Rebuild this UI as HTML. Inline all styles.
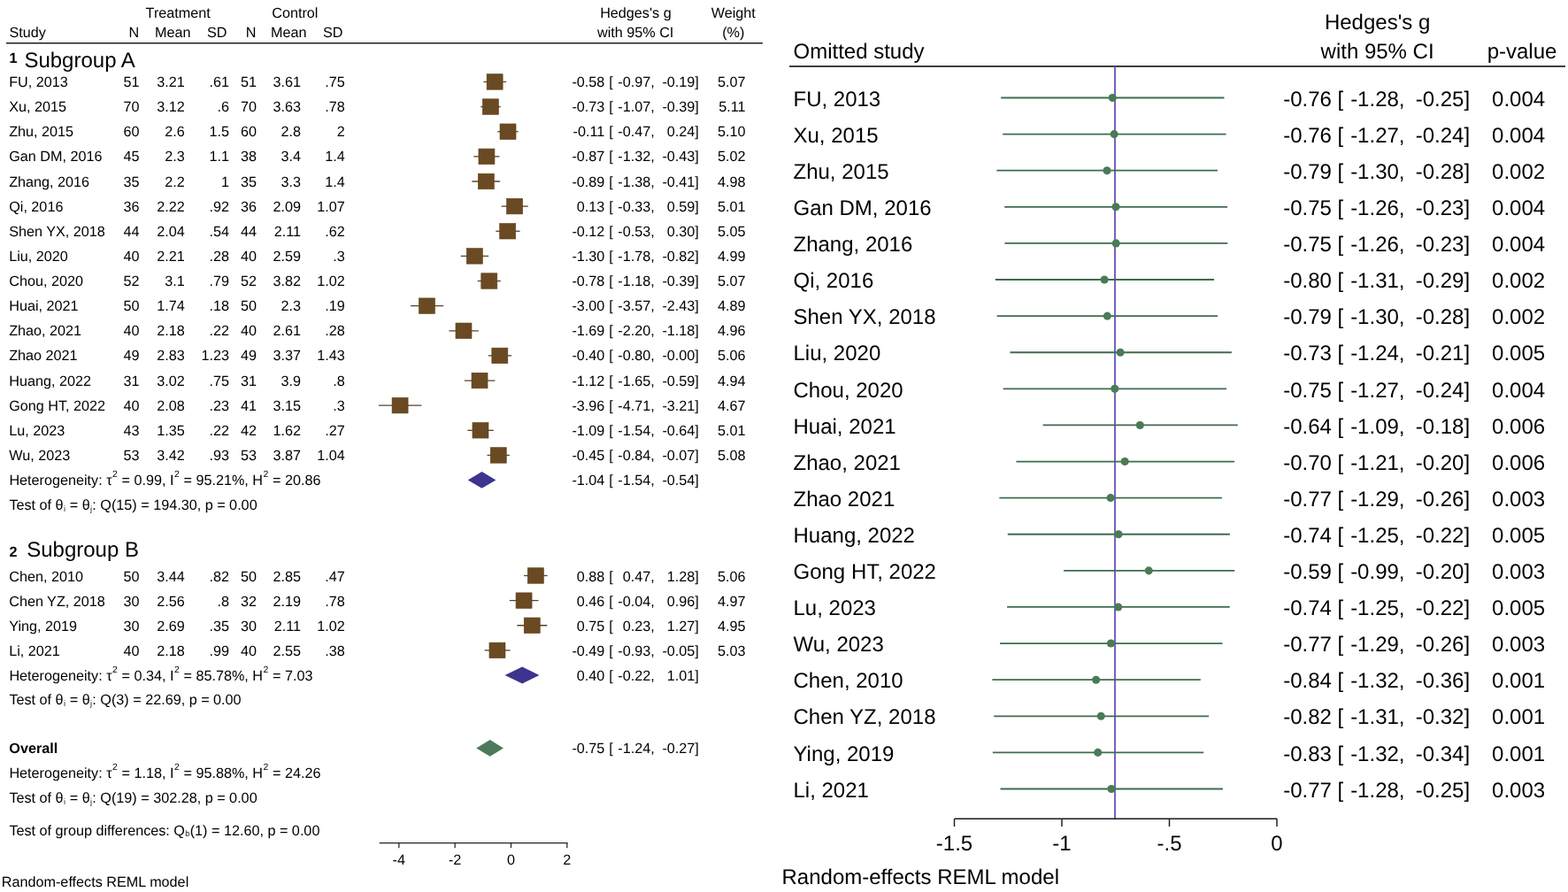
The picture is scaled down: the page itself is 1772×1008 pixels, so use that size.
<!DOCTYPE html>
<html lang="en">
<head>
<meta charset="utf-8">
<title>Forest plot</title>
<style>
html,body{margin:0;padding:0;background:#fff;}
body{width:1772px;height:1008px;overflow:hidden;}
svg{display:block;}
text{font-family:"Liberation Sans",sans-serif;fill:#000;white-space:pre;text-rendering:geometricPrecision;}
.l text{font-size:16.2px;}
.r text{font-size:24px;}
text.b{font-weight:bold;}
</style>
</head>
<body>
<svg width="1772" height="1008" viewBox="0 0 1772 1008">
<rect width="1772" height="1008" fill="#ffffff"/>
<g class="l">
<text x="201.20" y="19.80" text-anchor="middle">Treatment</text>
<text x="333.30" y="19.80" text-anchor="middle">Control</text>
<text x="10.40" y="42.30">Study</text>
<text x="157.20" y="42.30" text-anchor="end">N</text>
<text x="195.20" y="42.30" text-anchor="middle">Mean</text>
<text x="245.20" y="42.30" text-anchor="middle">SD</text>
<text x="289.40" y="42.30" text-anchor="end">N</text>
<text x="326.30" y="42.30" text-anchor="middle">Mean</text>
<text x="376.20" y="42.30" text-anchor="middle">SD</text>
<text x="718.40" y="19.80" text-anchor="middle">Hedges's g</text>
<text x="718.20" y="42.30" text-anchor="middle">with 95% CI</text>
<text x="828.80" y="19.80" text-anchor="middle">Weight</text>
<text x="828.80" y="42.30" text-anchor="middle">(%)</text>
<rect x="7" y="48.0" width="854.8" height="1.5" fill="#1c1c1c"/>
<text x="10.40" y="70.80" class="b">1</text>
<text x="27.40" y="75.60" style="font-size:24px">Subgroup A</text>
<text x="10.40" y="628.60" class="b">2</text>
<text x="30.20" y="628.60" style="font-size:24px">Subgroup B</text>
<text x="10.20" y="98.00">FU, 2013</text>
<text x="157.60" y="98.00" text-anchor="end">51</text>
<text x="208.80" y="98.00" text-anchor="end">3.21</text>
<text x="259.00" y="98.00" text-anchor="end">.61</text>
<text x="290.00" y="98.00" text-anchor="end">51</text>
<text x="340.10" y="98.00" text-anchor="end">3.61</text>
<text x="389.80" y="98.00" text-anchor="end">.75</text>
<text x="683.30" y="98.00" text-anchor="end">-0.58</text>
<text x="688.30" y="98.00">[</text>
<text x="739.70" y="98.00" text-anchor="end">-0.97,</text>
<text x="789.80" y="98.00" text-anchor="end">-0.19]</text>
<text x="842.60" y="98.00" text-anchor="end">5.07</text>
<line x1="546.38" y1="92.46" x2="572.08" y2="92.46" stroke="#5a4424" stroke-width="1.3" stroke-linecap="butt"/>
<rect x="550.13" y="83.71" width="18.0" height="17.5" fill="#6a4a23" stroke="#5d3d14" stroke-width="0.6"/>
<text x="10.20" y="126.13">Xu, 2015</text>
<text x="157.60" y="126.13" text-anchor="end">70</text>
<text x="208.80" y="126.13" text-anchor="end">3.12</text>
<text x="259.00" y="126.13" text-anchor="end">.6</text>
<text x="290.00" y="126.13" text-anchor="end">70</text>
<text x="340.10" y="126.13" text-anchor="end">3.63</text>
<text x="389.80" y="126.13" text-anchor="end">.78</text>
<text x="683.30" y="126.13" text-anchor="end">-0.73</text>
<text x="688.30" y="126.13">[</text>
<text x="739.70" y="126.13" text-anchor="end">-1.07,</text>
<text x="789.80" y="126.13" text-anchor="end">-0.39]</text>
<text x="842.60" y="126.13" text-anchor="end">5.11</text>
<line x1="543.21" y1="120.59" x2="565.75" y2="120.59" stroke="#5a4424" stroke-width="1.3" stroke-linecap="butt"/>
<rect x="545.38" y="111.84" width="18.0" height="17.5" fill="#6a4a23" stroke="#5d3d14" stroke-width="0.6"/>
<text x="10.20" y="154.27">Zhu, 2015</text>
<text x="157.60" y="154.27" text-anchor="end">60</text>
<text x="208.80" y="154.27" text-anchor="end">2.6</text>
<text x="259.00" y="154.27" text-anchor="end">1.5</text>
<text x="290.00" y="154.27" text-anchor="end">60</text>
<text x="340.10" y="154.27" text-anchor="end">2.8</text>
<text x="389.80" y="154.27" text-anchor="end">2</text>
<text x="683.30" y="154.27" text-anchor="end">-0.11</text>
<text x="688.30" y="154.27">[</text>
<text x="739.70" y="154.27" text-anchor="end">-0.47,</text>
<text x="789.80" y="154.27" text-anchor="end">0.24]</text>
<text x="842.60" y="154.27" text-anchor="end">5.10</text>
<line x1="562.22" y1="148.73" x2="585.70" y2="148.73" stroke="#5a4424" stroke-width="1.3" stroke-linecap="butt"/>
<rect x="565.02" y="139.98" width="18.0" height="17.5" fill="#6a4a23" stroke="#5d3d14" stroke-width="0.6"/>
<text x="10.20" y="182.40">Gan DM, 2016</text>
<text x="157.60" y="182.40" text-anchor="end">45</text>
<text x="208.80" y="182.40" text-anchor="end">2.3</text>
<text x="259.00" y="182.40" text-anchor="end">1.1</text>
<text x="290.00" y="182.40" text-anchor="end">38</text>
<text x="340.10" y="182.40" text-anchor="end">3.4</text>
<text x="389.80" y="182.40" text-anchor="end">1.4</text>
<text x="683.30" y="182.40" text-anchor="end">-0.87</text>
<text x="688.30" y="182.40">[</text>
<text x="739.70" y="182.40" text-anchor="end">-1.32,</text>
<text x="789.80" y="182.40" text-anchor="end">-0.43]</text>
<text x="842.60" y="182.40" text-anchor="end">5.02</text>
<line x1="535.30" y1="176.86" x2="564.48" y2="176.86" stroke="#5a4424" stroke-width="1.3" stroke-linecap="butt"/>
<rect x="540.95" y="168.11" width="18.0" height="17.5" fill="#6a4a23" stroke="#5d3d14" stroke-width="0.6"/>
<text x="10.20" y="210.53">Zhang, 2016</text>
<text x="157.60" y="210.53" text-anchor="end">35</text>
<text x="208.80" y="210.53" text-anchor="end">2.2</text>
<text x="259.00" y="210.53" text-anchor="end">1</text>
<text x="290.00" y="210.53" text-anchor="end">35</text>
<text x="340.10" y="210.53" text-anchor="end">3.3</text>
<text x="389.80" y="210.53" text-anchor="end">1.4</text>
<text x="683.30" y="210.53" text-anchor="end">-0.89</text>
<text x="688.30" y="210.53">[</text>
<text x="739.70" y="210.53" text-anchor="end">-1.38,</text>
<text x="789.80" y="210.53" text-anchor="end">-0.41]</text>
<text x="842.60" y="210.53" text-anchor="end">4.98</text>
<line x1="533.40" y1="204.99" x2="565.12" y2="204.99" stroke="#5a4424" stroke-width="1.3" stroke-linecap="butt"/>
<rect x="540.31" y="196.24" width="18.0" height="17.5" fill="#6a4a23" stroke="#5d3d14" stroke-width="0.6"/>
<text x="10.20" y="238.66">Qi, 2016</text>
<text x="157.60" y="238.66" text-anchor="end">36</text>
<text x="208.80" y="238.66" text-anchor="end">2.22</text>
<text x="259.00" y="238.66" text-anchor="end">.92</text>
<text x="290.00" y="238.66" text-anchor="end">36</text>
<text x="340.10" y="238.66" text-anchor="end">2.09</text>
<text x="389.80" y="238.66" text-anchor="end">1.07</text>
<text x="683.30" y="238.66" text-anchor="end">0.13</text>
<text x="688.30" y="238.66">[</text>
<text x="739.70" y="238.66" text-anchor="end">-0.33,</text>
<text x="789.80" y="238.66" text-anchor="end">0.59]</text>
<text x="842.60" y="238.66" text-anchor="end">5.01</text>
<line x1="566.65" y1="233.12" x2="596.79" y2="233.12" stroke="#5a4424" stroke-width="1.3" stroke-linecap="butt"/>
<rect x="572.62" y="224.38" width="18.0" height="17.5" fill="#6a4a23" stroke="#5d3d14" stroke-width="0.6"/>
<text x="10.20" y="266.80">Shen YX, 2018</text>
<text x="157.60" y="266.80" text-anchor="end">44</text>
<text x="208.80" y="266.80" text-anchor="end">2.04</text>
<text x="259.00" y="266.80" text-anchor="end">.54</text>
<text x="290.00" y="266.80" text-anchor="end">44</text>
<text x="340.10" y="266.80" text-anchor="end">2.11</text>
<text x="389.80" y="266.80" text-anchor="end">.62</text>
<text x="683.30" y="266.80" text-anchor="end">-0.12</text>
<text x="688.30" y="266.80">[</text>
<text x="739.70" y="266.80" text-anchor="end">-0.53,</text>
<text x="789.80" y="266.80" text-anchor="end">0.30]</text>
<text x="842.60" y="266.80" text-anchor="end">5.05</text>
<line x1="560.31" y1="261.26" x2="587.60" y2="261.26" stroke="#5a4424" stroke-width="1.3" stroke-linecap="butt"/>
<rect x="564.70" y="252.51" width="18.0" height="17.5" fill="#6a4a23" stroke="#5d3d14" stroke-width="0.6"/>
<text x="10.20" y="294.93">Liu, 2020</text>
<text x="157.60" y="294.93" text-anchor="end">40</text>
<text x="208.80" y="294.93" text-anchor="end">2.21</text>
<text x="259.00" y="294.93" text-anchor="end">.28</text>
<text x="290.00" y="294.93" text-anchor="end">40</text>
<text x="340.10" y="294.93" text-anchor="end">2.59</text>
<text x="389.80" y="294.93" text-anchor="end">.3</text>
<text x="683.30" y="294.93" text-anchor="end">-1.30</text>
<text x="688.30" y="294.93">[</text>
<text x="739.70" y="294.93" text-anchor="end">-1.78,</text>
<text x="789.80" y="294.93" text-anchor="end">-0.82]</text>
<text x="842.60" y="294.93" text-anchor="end">4.99</text>
<line x1="520.73" y1="289.39" x2="552.13" y2="289.39" stroke="#5a4424" stroke-width="1.3" stroke-linecap="butt"/>
<rect x="527.33" y="280.64" width="18.0" height="17.5" fill="#6a4a23" stroke="#5d3d14" stroke-width="0.6"/>
<text x="10.20" y="323.06">Chou, 2020</text>
<text x="157.60" y="323.06" text-anchor="end">52</text>
<text x="208.80" y="323.06" text-anchor="end">3.1</text>
<text x="259.00" y="323.06" text-anchor="end">.79</text>
<text x="290.00" y="323.06" text-anchor="end">52</text>
<text x="340.10" y="323.06" text-anchor="end">3.82</text>
<text x="389.80" y="323.06" text-anchor="end">1.02</text>
<text x="683.30" y="323.06" text-anchor="end">-0.78</text>
<text x="688.30" y="323.06">[</text>
<text x="739.70" y="323.06" text-anchor="end">-1.18,</text>
<text x="789.80" y="323.06" text-anchor="end">-0.39]</text>
<text x="842.60" y="323.06" text-anchor="end">5.07</text>
<line x1="539.73" y1="317.52" x2="565.75" y2="317.52" stroke="#5a4424" stroke-width="1.3" stroke-linecap="butt"/>
<rect x="543.80" y="308.77" width="18.0" height="17.5" fill="#6a4a23" stroke="#5d3d14" stroke-width="0.6"/>
<text x="10.20" y="351.20">Huai, 2021</text>
<text x="157.60" y="351.20" text-anchor="end">50</text>
<text x="208.80" y="351.20" text-anchor="end">1.74</text>
<text x="259.00" y="351.20" text-anchor="end">.18</text>
<text x="290.00" y="351.20" text-anchor="end">50</text>
<text x="340.10" y="351.20" text-anchor="end">2.3</text>
<text x="389.80" y="351.20" text-anchor="end">.19</text>
<text x="683.30" y="351.20" text-anchor="end">-3.00</text>
<text x="688.30" y="351.20">[</text>
<text x="739.70" y="351.20" text-anchor="end">-3.57,</text>
<text x="789.80" y="351.20" text-anchor="end">-2.43]</text>
<text x="842.60" y="351.20" text-anchor="end">4.89</text>
<line x1="464.04" y1="345.66" x2="501.14" y2="345.66" stroke="#5a4424" stroke-width="1.3" stroke-linecap="butt"/>
<rect x="473.49" y="336.91" width="18.0" height="17.5" fill="#6a4a23" stroke="#5d3d14" stroke-width="0.6"/>
<text x="10.20" y="379.33">Zhao, 2021</text>
<text x="157.60" y="379.33" text-anchor="end">40</text>
<text x="208.80" y="379.33" text-anchor="end">2.18</text>
<text x="259.00" y="379.33" text-anchor="end">.22</text>
<text x="290.00" y="379.33" text-anchor="end">40</text>
<text x="340.10" y="379.33" text-anchor="end">2.61</text>
<text x="389.80" y="379.33" text-anchor="end">.28</text>
<text x="683.30" y="379.33" text-anchor="end">-1.69</text>
<text x="688.30" y="379.33">[</text>
<text x="739.70" y="379.33" text-anchor="end">-2.20,</text>
<text x="789.80" y="379.33" text-anchor="end">-1.18]</text>
<text x="842.60" y="379.33" text-anchor="end">4.96</text>
<line x1="507.43" y1="373.79" x2="540.73" y2="373.79" stroke="#5a4424" stroke-width="1.3" stroke-linecap="butt"/>
<rect x="514.98" y="365.04" width="18.0" height="17.5" fill="#6a4a23" stroke="#5d3d14" stroke-width="0.6"/>
<text x="10.20" y="407.46">Zhao 2021</text>
<text x="157.60" y="407.46" text-anchor="end">49</text>
<text x="208.80" y="407.46" text-anchor="end">2.83</text>
<text x="259.00" y="407.46" text-anchor="end">1.23</text>
<text x="290.00" y="407.46" text-anchor="end">49</text>
<text x="340.10" y="407.46" text-anchor="end">3.37</text>
<text x="389.80" y="407.46" text-anchor="end">1.43</text>
<text x="683.30" y="407.46" text-anchor="end">-0.40</text>
<text x="688.30" y="407.46">[</text>
<text x="739.70" y="407.46" text-anchor="end">-0.80,</text>
<text x="789.80" y="407.46" text-anchor="end">-0.00]</text>
<text x="842.60" y="407.46" text-anchor="end">5.06</text>
<line x1="551.76" y1="401.92" x2="578.10" y2="401.92" stroke="#5a4424" stroke-width="1.3" stroke-linecap="butt"/>
<rect x="555.83" y="393.17" width="18.0" height="17.5" fill="#6a4a23" stroke="#5d3d14" stroke-width="0.6"/>
<text x="10.20" y="435.60">Huang, 2022</text>
<text x="157.60" y="435.60" text-anchor="end">31</text>
<text x="208.80" y="435.60" text-anchor="end">3.02</text>
<text x="259.00" y="435.60" text-anchor="end">.75</text>
<text x="290.00" y="435.60" text-anchor="end">31</text>
<text x="340.10" y="435.60" text-anchor="end">3.9</text>
<text x="389.80" y="435.60" text-anchor="end">.8</text>
<text x="683.30" y="435.60" text-anchor="end">-1.12</text>
<text x="688.30" y="435.60">[</text>
<text x="739.70" y="435.60" text-anchor="end">-1.65,</text>
<text x="789.80" y="435.60" text-anchor="end">-0.59]</text>
<text x="842.60" y="435.60" text-anchor="end">4.94</text>
<line x1="524.84" y1="430.06" x2="559.41" y2="430.06" stroke="#5a4424" stroke-width="1.3" stroke-linecap="butt"/>
<rect x="533.03" y="421.31" width="18.0" height="17.5" fill="#6a4a23" stroke="#5d3d14" stroke-width="0.6"/>
<text x="10.20" y="463.73">Gong HT, 2022</text>
<text x="157.60" y="463.73" text-anchor="end">40</text>
<text x="208.80" y="463.73" text-anchor="end">2.08</text>
<text x="259.00" y="463.73" text-anchor="end">.23</text>
<text x="290.00" y="463.73" text-anchor="end">41</text>
<text x="340.10" y="463.73" text-anchor="end">3.15</text>
<text x="389.80" y="463.73" text-anchor="end">.3</text>
<text x="683.30" y="463.73" text-anchor="end">-3.96</text>
<text x="688.30" y="463.73">[</text>
<text x="739.70" y="463.73" text-anchor="end">-4.71,</text>
<text x="789.80" y="463.73" text-anchor="end">-3.21]</text>
<text x="842.60" y="463.73" text-anchor="end">4.67</text>
<line x1="427.93" y1="458.19" x2="476.44" y2="458.19" stroke="#5a4424" stroke-width="1.3" stroke-linecap="butt"/>
<rect x="443.09" y="449.44" width="18.0" height="17.5" fill="#6a4a23" stroke="#5d3d14" stroke-width="0.6"/>
<text x="10.20" y="491.86">Lu, 2023</text>
<text x="157.60" y="491.86" text-anchor="end">43</text>
<text x="208.80" y="491.86" text-anchor="end">1.35</text>
<text x="259.00" y="491.86" text-anchor="end">.22</text>
<text x="290.00" y="491.86" text-anchor="end">42</text>
<text x="340.10" y="491.86" text-anchor="end">1.62</text>
<text x="389.80" y="491.86" text-anchor="end">.27</text>
<text x="683.30" y="491.86" text-anchor="end">-1.09</text>
<text x="688.30" y="491.86">[</text>
<text x="739.70" y="491.86" text-anchor="end">-1.54,</text>
<text x="789.80" y="491.86" text-anchor="end">-0.64]</text>
<text x="842.60" y="491.86" text-anchor="end">5.01</text>
<line x1="528.33" y1="486.32" x2="557.83" y2="486.32" stroke="#5a4424" stroke-width="1.3" stroke-linecap="butt"/>
<rect x="533.98" y="477.57" width="18.0" height="17.5" fill="#6a4a23" stroke="#5d3d14" stroke-width="0.6"/>
<text x="10.20" y="520.00">Wu, 2023</text>
<text x="157.60" y="520.00" text-anchor="end">53</text>
<text x="208.80" y="520.00" text-anchor="end">3.42</text>
<text x="259.00" y="520.00" text-anchor="end">.93</text>
<text x="290.00" y="520.00" text-anchor="end">53</text>
<text x="340.10" y="520.00" text-anchor="end">3.87</text>
<text x="389.80" y="520.00" text-anchor="end">1.04</text>
<text x="683.30" y="520.00" text-anchor="end">-0.45</text>
<text x="688.30" y="520.00">[</text>
<text x="739.70" y="520.00" text-anchor="end">-0.84,</text>
<text x="789.80" y="520.00" text-anchor="end">-0.07]</text>
<text x="842.60" y="520.00" text-anchor="end">5.08</text>
<line x1="550.50" y1="514.46" x2="575.88" y2="514.46" stroke="#5a4424" stroke-width="1.3" stroke-linecap="butt"/>
<rect x="554.25" y="505.71" width="18.0" height="17.5" fill="#6a4a23" stroke="#5d3d14" stroke-width="0.6"/>
<text x="10.20" y="656.85">Chen, 2010</text>
<text x="157.60" y="656.85" text-anchor="end">50</text>
<text x="208.80" y="656.85" text-anchor="end">3.44</text>
<text x="259.00" y="656.85" text-anchor="end">.82</text>
<text x="290.00" y="656.85" text-anchor="end">50</text>
<text x="340.10" y="656.85" text-anchor="end">2.85</text>
<text x="389.80" y="656.85" text-anchor="end">.47</text>
<text x="683.30" y="656.85" text-anchor="end">0.88</text>
<text x="688.30" y="656.85">[</text>
<text x="739.70" y="656.85" text-anchor="end">0.47,</text>
<text x="789.80" y="656.85" text-anchor="end">1.28]</text>
<text x="842.60" y="656.85" text-anchor="end">5.06</text>
<line x1="591.98" y1="650.50" x2="618.64" y2="650.50" stroke="#5a4424" stroke-width="1.3" stroke-linecap="butt"/>
<rect x="596.37" y="641.75" width="18.0" height="17.5" fill="#6a4a23" stroke="#5d3d14" stroke-width="0.6"/>
<text x="10.20" y="684.98">Chen YZ, 2018</text>
<text x="157.60" y="684.98" text-anchor="end">30</text>
<text x="208.80" y="684.98" text-anchor="end">2.56</text>
<text x="259.00" y="684.98" text-anchor="end">.8</text>
<text x="290.00" y="684.98" text-anchor="end">32</text>
<text x="340.10" y="684.98" text-anchor="end">2.19</text>
<text x="389.80" y="684.98" text-anchor="end">.78</text>
<text x="683.30" y="684.98" text-anchor="end">0.46</text>
<text x="688.30" y="684.98">[</text>
<text x="739.70" y="684.98" text-anchor="end">-0.04,</text>
<text x="789.80" y="684.98" text-anchor="end">0.96]</text>
<text x="842.60" y="684.98" text-anchor="end">4.97</text>
<line x1="575.83" y1="678.63" x2="608.50" y2="678.63" stroke="#5a4424" stroke-width="1.3" stroke-linecap="butt"/>
<rect x="583.07" y="669.88" width="18.0" height="17.5" fill="#6a4a23" stroke="#5d3d14" stroke-width="0.6"/>
<text x="10.20" y="713.12">Ying, 2019</text>
<text x="157.60" y="713.12" text-anchor="end">30</text>
<text x="208.80" y="713.12" text-anchor="end">2.69</text>
<text x="259.00" y="713.12" text-anchor="end">.35</text>
<text x="290.00" y="713.12" text-anchor="end">30</text>
<text x="340.10" y="713.12" text-anchor="end">2.11</text>
<text x="389.80" y="713.12" text-anchor="end">1.02</text>
<text x="683.30" y="713.12" text-anchor="end">0.75</text>
<text x="688.30" y="713.12">[</text>
<text x="739.70" y="713.12" text-anchor="end">0.23,</text>
<text x="789.80" y="713.12" text-anchor="end">1.27]</text>
<text x="842.60" y="713.12" text-anchor="end">4.95</text>
<line x1="584.38" y1="706.77" x2="618.32" y2="706.77" stroke="#5a4424" stroke-width="1.3" stroke-linecap="butt"/>
<rect x="592.25" y="698.02" width="18.0" height="17.5" fill="#6a4a23" stroke="#5d3d14" stroke-width="0.6"/>
<text x="10.20" y="741.25">Li, 2021</text>
<text x="157.60" y="741.25" text-anchor="end">40</text>
<text x="208.80" y="741.25" text-anchor="end">2.18</text>
<text x="259.00" y="741.25" text-anchor="end">.99</text>
<text x="290.00" y="741.25" text-anchor="end">40</text>
<text x="340.10" y="741.25" text-anchor="end">2.55</text>
<text x="389.80" y="741.25" text-anchor="end">.38</text>
<text x="683.30" y="741.25" text-anchor="end">-0.49</text>
<text x="688.30" y="741.25">[</text>
<text x="739.70" y="741.25" text-anchor="end">-0.93,</text>
<text x="789.80" y="741.25" text-anchor="end">-0.05]</text>
<text x="842.60" y="741.25" text-anchor="end">5.03</text>
<line x1="547.65" y1="734.90" x2="576.52" y2="734.90" stroke="#5a4424" stroke-width="1.3" stroke-linecap="butt"/>
<rect x="552.98" y="726.15" width="18.0" height="17.5" fill="#6a4a23" stroke="#5d3d14" stroke-width="0.6"/>
<text x="10.40" y="548.13">Heterogeneity: τ<tspan dx="0.5" dy="-9.0" style="font-size:10.4px;text-rendering:geometricPrecision">2</tspan><tspan dx="0.2" dy="9.0"> </tspan>= 0.99, I<tspan dx="0.5" dy="-9.0" style="font-size:10.4px;text-rendering:geometricPrecision">2</tspan><tspan dx="0.2" dy="9.0"> </tspan>= 95.21%, H<tspan dx="0.5" dy="-9.0" style="font-size:10.4px;text-rendering:geometricPrecision">2</tspan><tspan dx="0.2" dy="9.0"> </tspan>= 20.86</text>
<text x="683.30" y="548.13" text-anchor="end">-1.04</text>
<text x="688.30" y="548.13">[</text>
<text x="739.70" y="548.13" text-anchor="end">-1.54,</text>
<text x="789.80" y="548.13" text-anchor="end">-0.54]</text>
<polygon points="528.73,542.40 544.56,533.00 560.40,542.40 544.56,551.80" fill="#3c3490"/>
<text x="10.40" y="576.26">Test of θ<tspan dx="0.3" dy="1.6" style="font-size:9.2px;fill:#222">i</tspan><tspan dx="0.3" dy="-1.6"> </tspan>= θ<tspan dx="0.3" dy="1.6" style="font-size:9.2px;fill:#222">j</tspan><tspan dx="0.3" dy="-1.6">:</tspan> Q(15) = 194.30, p = 0.00</text>
<text x="10.40" y="769.00">Heterogeneity: τ<tspan dx="0.5" dy="-9.0" style="font-size:10.4px;text-rendering:geometricPrecision">2</tspan><tspan dx="0.2" dy="9.0"> </tspan>= 0.34, I<tspan dx="0.5" dy="-9.0" style="font-size:10.4px;text-rendering:geometricPrecision">2</tspan><tspan dx="0.2" dy="9.0"> </tspan>= 85.78%, H<tspan dx="0.5" dy="-9.0" style="font-size:10.4px;text-rendering:geometricPrecision">2</tspan><tspan dx="0.2" dy="9.0"> </tspan>= 7.03</text>
<text x="683.30" y="769.00" text-anchor="end">0.40</text>
<text x="688.30" y="769.00">[</text>
<text x="739.70" y="769.00" text-anchor="end">-0.22,</text>
<text x="789.80" y="769.00" text-anchor="end">1.01]</text>
<polygon points="570.53,763.00 590.17,753.45 609.49,763.00 590.17,772.55" fill="#3c3490"/>
<text x="10.40" y="796.40">Test of θ<tspan dx="0.3" dy="1.6" style="font-size:9.2px;fill:#222">i</tspan><tspan dx="0.3" dy="-1.6"> </tspan>= θ<tspan dx="0.3" dy="1.6" style="font-size:9.2px;fill:#222">j</tspan><tspan dx="0.3" dy="-1.6">:</tspan> Q(3) = 22.69, p = 0.00</text>
<text x="10.30" y="851.00" class="b">Overall</text>
<text x="683.30" y="851.00" text-anchor="end">-0.75</text>
<text x="688.30" y="851.00">[</text>
<text x="739.70" y="851.00" text-anchor="end">-1.24,</text>
<text x="789.80" y="851.00" text-anchor="end">-0.27]</text>
<polygon points="538.23,845.40 553.75,836.00 568.95,845.40 553.75,854.80" fill="#4b7a5b"/>
<text x="10.40" y="879.20">Heterogeneity: τ<tspan dx="0.5" dy="-9.0" style="font-size:10.4px;text-rendering:geometricPrecision">2</tspan><tspan dx="0.2" dy="9.0"> </tspan>= 1.18, I<tspan dx="0.5" dy="-9.0" style="font-size:10.4px;text-rendering:geometricPrecision">2</tspan><tspan dx="0.2" dy="9.0"> </tspan>= 95.88%, H<tspan dx="0.5" dy="-9.0" style="font-size:10.4px;text-rendering:geometricPrecision">2</tspan><tspan dx="0.2" dy="9.0"> </tspan>= 24.26</text>
<text x="10.40" y="907.00">Test of θ<tspan dx="0.3" dy="1.6" style="font-size:9.2px;fill:#222">i</tspan><tspan dx="0.3" dy="-1.6"> </tspan>= θ<tspan dx="0.3" dy="1.6" style="font-size:9.2px;fill:#222">j</tspan><tspan dx="0.3" dy="-1.6">:</tspan> Q(19) = 302.28, p = 0.00</text>
<text x="10.40" y="943.50">Test of group differences: Q<tspan dx="0.3" dy="1.6" style="font-size:9.2px;fill:#222">b</tspan><tspan dx="0.3" dy="-1.6">(</tspan>1) = 12.60, p = 0.00</text>
<path d="M428.7 952.7H641.6" stroke="#222" stroke-width="1.25" fill="none"/>
<path d="M450.82 952.7V958.2" stroke="#222" stroke-width="1.25" fill="none"/>
<text x="450.82" y="976.50" text-anchor="middle">-4</text>
<path d="M514.16 952.7V958.2" stroke="#222" stroke-width="1.25" fill="none"/>
<text x="514.16" y="976.50" text-anchor="middle">-2</text>
<path d="M577.50 952.7V958.2" stroke="#222" stroke-width="1.25" fill="none"/>
<text x="577.50" y="976.50" text-anchor="middle">0</text>
<path d="M640.84 952.7V958.2" stroke="#222" stroke-width="1.25" fill="none"/>
<text x="640.84" y="976.50" text-anchor="middle">2</text>
<text x="1.80" y="1002.00">Random-effects REML model</text>
</g>
<g class="r">
<text x="896.50" y="65.70">Omitted study</text>
<text x="1556.60" y="32.70" text-anchor="middle">Hedges's g</text>
<text x="1556.60" y="65.70" text-anchor="middle">with 95% CI</text>
<text x="1720.00" y="65.70" text-anchor="middle">p-value</text>
<rect x="892" y="74.2" width="877" height="1.6" fill="#111"/>
<rect x="1259.1" y="75" width="1.8" height="850.5" fill="#6653b8"/>
<text x="896.50" y="119.70">FU, 2013</text>
<text x="1504.90" y="119.70" text-anchor="end">-0.76</text>
<text x="1511.60" y="119.70">[</text>
<text x="1587.50" y="119.70" text-anchor="end">-1.28,</text>
<text x="1661.10" y="119.70" text-anchor="end">-0.25]</text>
<text x="1746.10" y="119.70" text-anchor="end">0.004</text>
<line x1="1131.20" y1="110.50" x2="1383.40" y2="110.50" stroke="#3f6c4e" stroke-width="1.8"/>
<circle cx="1257.30" cy="110.50" r="4.55" fill="#4a7a56"/>
<text x="896.50" y="160.81">Xu, 2015</text>
<text x="1504.90" y="160.81" text-anchor="end">-0.76</text>
<text x="1511.60" y="160.81">[</text>
<text x="1587.50" y="160.81" text-anchor="end">-1.27,</text>
<text x="1661.10" y="160.81" text-anchor="end">-0.24]</text>
<text x="1746.10" y="160.81" text-anchor="end">0.004</text>
<line x1="1133.20" y1="151.60" x2="1385.60" y2="151.60" stroke="#3f6c4e" stroke-width="1.8"/>
<circle cx="1259.15" cy="151.60" r="4.55" fill="#4a7a56"/>
<text x="896.50" y="201.91">Zhu, 2015</text>
<text x="1504.90" y="201.91" text-anchor="end">-0.79</text>
<text x="1511.60" y="201.91">[</text>
<text x="1587.50" y="201.91" text-anchor="end">-1.30,</text>
<text x="1661.10" y="201.91" text-anchor="end">-0.28]</text>
<text x="1746.10" y="201.91" text-anchor="end">0.002</text>
<line x1="1126.40" y1="192.71" x2="1375.95" y2="192.71" stroke="#3f6c4e" stroke-width="1.8"/>
<circle cx="1251.00" cy="192.71" r="4.55" fill="#4a7a56"/>
<text x="896.50" y="243.01">Gan DM, 2016</text>
<text x="1504.90" y="243.01" text-anchor="end">-0.75</text>
<text x="1511.60" y="243.01">[</text>
<text x="1587.50" y="243.01" text-anchor="end">-1.26,</text>
<text x="1661.10" y="243.01" text-anchor="end">-0.23]</text>
<text x="1746.10" y="243.01" text-anchor="end">0.004</text>
<line x1="1135.20" y1="233.81" x2="1387.10" y2="233.81" stroke="#3f6c4e" stroke-width="1.8"/>
<circle cx="1261.00" cy="233.81" r="4.55" fill="#4a7a56"/>
<text x="896.50" y="284.12">Zhang, 2016</text>
<text x="1504.90" y="284.12" text-anchor="end">-0.75</text>
<text x="1511.60" y="284.12">[</text>
<text x="1587.50" y="284.12" text-anchor="end">-1.26,</text>
<text x="1661.10" y="284.12" text-anchor="end">-0.23]</text>
<text x="1746.10" y="284.12" text-anchor="end">0.004</text>
<line x1="1135.40" y1="274.92" x2="1387.30" y2="274.92" stroke="#3f6c4e" stroke-width="1.8"/>
<circle cx="1261.20" cy="274.92" r="4.55" fill="#4a7a56"/>
<text x="896.50" y="325.22">Qi, 2016</text>
<text x="1504.90" y="325.22" text-anchor="end">-0.80</text>
<text x="1511.60" y="325.22">[</text>
<text x="1587.50" y="325.22" text-anchor="end">-1.31,</text>
<text x="1661.10" y="325.22" text-anchor="end">-0.29]</text>
<text x="1746.10" y="325.22" text-anchor="end">0.002</text>
<line x1="1124.90" y1="316.02" x2="1372.05" y2="316.02" stroke="#3f6c4e" stroke-width="1.8"/>
<circle cx="1248.10" cy="316.02" r="4.55" fill="#4a7a56"/>
<text x="896.50" y="366.33">Shen YX, 2018</text>
<text x="1504.90" y="366.33" text-anchor="end">-0.79</text>
<text x="1511.60" y="366.33">[</text>
<text x="1587.50" y="366.33" text-anchor="end">-1.30,</text>
<text x="1661.10" y="366.33" text-anchor="end">-0.28]</text>
<text x="1746.10" y="366.33" text-anchor="end">0.002</text>
<line x1="1126.60" y1="357.13" x2="1376.10" y2="357.13" stroke="#3f6c4e" stroke-width="1.8"/>
<circle cx="1251.35" cy="357.13" r="4.55" fill="#4a7a56"/>
<text x="896.50" y="407.43">Liu, 2020</text>
<text x="1504.90" y="407.43" text-anchor="end">-0.73</text>
<text x="1511.60" y="407.43">[</text>
<text x="1587.50" y="407.43" text-anchor="end">-1.24,</text>
<text x="1661.10" y="407.43" text-anchor="end">-0.21]</text>
<text x="1746.10" y="407.43" text-anchor="end">0.005</text>
<line x1="1141.50" y1="398.23" x2="1391.90" y2="398.23" stroke="#3f6c4e" stroke-width="1.8"/>
<circle cx="1266.10" cy="398.23" r="4.55" fill="#4a7a56"/>
<text x="896.50" y="448.54">Chou, 2020</text>
<text x="1504.90" y="448.54" text-anchor="end">-0.75</text>
<text x="1511.60" y="448.54">[</text>
<text x="1587.50" y="448.54" text-anchor="end">-1.27,</text>
<text x="1661.10" y="448.54" text-anchor="end">-0.24]</text>
<text x="1746.10" y="448.54" text-anchor="end">0.004</text>
<line x1="1133.70" y1="439.34" x2="1386.10" y2="439.34" stroke="#3f6c4e" stroke-width="1.8"/>
<circle cx="1259.80" cy="439.34" r="4.55" fill="#4a7a56"/>
<text x="896.50" y="489.64">Huai, 2021</text>
<text x="1504.90" y="489.64" text-anchor="end">-0.64</text>
<text x="1511.60" y="489.64">[</text>
<text x="1587.50" y="489.64" text-anchor="end">-1.09,</text>
<text x="1661.10" y="489.64" text-anchor="end">-0.18]</text>
<text x="1746.10" y="489.64" text-anchor="end">0.006</text>
<line x1="1178.60" y1="480.44" x2="1398.80" y2="480.44" stroke="#3f6c4e" stroke-width="1.8"/>
<circle cx="1288.30" cy="480.44" r="4.55" fill="#4a7a56"/>
<text x="896.50" y="530.75">Zhao, 2021</text>
<text x="1504.90" y="530.75" text-anchor="end">-0.70</text>
<text x="1511.60" y="530.75">[</text>
<text x="1587.50" y="530.75" text-anchor="end">-1.21,</text>
<text x="1661.10" y="530.75" text-anchor="end">-0.20]</text>
<text x="1746.10" y="530.75" text-anchor="end">0.006</text>
<line x1="1148.40" y1="521.55" x2="1395.10" y2="521.55" stroke="#3f6c4e" stroke-width="1.8"/>
<circle cx="1271.20" cy="521.55" r="4.55" fill="#4a7a56"/>
<text x="896.50" y="571.86">Zhao 2021</text>
<text x="1504.90" y="571.86" text-anchor="end">-0.77</text>
<text x="1511.60" y="571.86">[</text>
<text x="1587.50" y="571.86" text-anchor="end">-1.29,</text>
<text x="1661.10" y="571.86" text-anchor="end">-0.26]</text>
<text x="1746.10" y="571.86" text-anchor="end">0.003</text>
<line x1="1129.30" y1="562.65" x2="1380.90" y2="562.65" stroke="#3f6c4e" stroke-width="1.8"/>
<circle cx="1255.10" cy="562.65" r="4.55" fill="#4a7a56"/>
<text x="896.50" y="612.96">Huang, 2022</text>
<text x="1504.90" y="612.96" text-anchor="end">-0.74</text>
<text x="1511.60" y="612.96">[</text>
<text x="1587.50" y="612.96" text-anchor="end">-1.25,</text>
<text x="1661.10" y="612.96" text-anchor="end">-0.22]</text>
<text x="1746.10" y="612.96" text-anchor="end">0.005</text>
<line x1="1138.80" y1="603.76" x2="1389.85" y2="603.76" stroke="#3f6c4e" stroke-width="1.8"/>
<circle cx="1264.05" cy="603.76" r="4.55" fill="#4a7a56"/>
<text x="896.50" y="654.07">Gong HT, 2022</text>
<text x="1504.90" y="654.07" text-anchor="end">-0.59</text>
<text x="1511.60" y="654.07">[</text>
<text x="1587.50" y="654.07" text-anchor="end">-0.99,</text>
<text x="1661.10" y="654.07" text-anchor="end">-0.20]</text>
<text x="1746.10" y="654.07" text-anchor="end">0.003</text>
<line x1="1202.10" y1="644.87" x2="1395.25" y2="644.87" stroke="#3f6c4e" stroke-width="1.8"/>
<circle cx="1298.25" cy="644.87" r="4.55" fill="#4a7a56"/>
<text x="896.50" y="695.17">Lu, 2023</text>
<text x="1504.90" y="695.17" text-anchor="end">-0.74</text>
<text x="1511.60" y="695.17">[</text>
<text x="1587.50" y="695.17" text-anchor="end">-1.25,</text>
<text x="1661.10" y="695.17" text-anchor="end">-0.22]</text>
<text x="1746.10" y="695.17" text-anchor="end">0.005</text>
<line x1="1138.10" y1="685.97" x2="1389.70" y2="685.97" stroke="#3f6c4e" stroke-width="1.8"/>
<circle cx="1263.70" cy="685.97" r="4.55" fill="#4a7a56"/>
<text x="896.50" y="736.27">Wu, 2023</text>
<text x="1504.90" y="736.27" text-anchor="end">-0.77</text>
<text x="1511.60" y="736.27">[</text>
<text x="1587.50" y="736.27" text-anchor="end">-1.29,</text>
<text x="1661.10" y="736.27" text-anchor="end">-0.26]</text>
<text x="1746.10" y="736.27" text-anchor="end">0.003</text>
<line x1="1130.00" y1="727.07" x2="1381.55" y2="727.07" stroke="#3f6c4e" stroke-width="1.8"/>
<circle cx="1255.40" cy="727.07" r="4.55" fill="#4a7a56"/>
<text x="896.50" y="777.38">Chen, 2010</text>
<text x="1504.90" y="777.38" text-anchor="end">-0.84</text>
<text x="1511.60" y="777.38">[</text>
<text x="1587.50" y="777.38" text-anchor="end">-1.32,</text>
<text x="1661.10" y="777.38" text-anchor="end">-0.36]</text>
<text x="1746.10" y="777.38" text-anchor="end">0.001</text>
<line x1="1121.35" y1="768.18" x2="1356.80" y2="768.18" stroke="#3f6c4e" stroke-width="1.8"/>
<circle cx="1238.65" cy="768.18" r="4.55" fill="#4a7a56"/>
<text x="896.50" y="818.49">Chen YZ, 2018</text>
<text x="1504.90" y="818.49" text-anchor="end">-0.82</text>
<text x="1511.60" y="818.49">[</text>
<text x="1587.50" y="818.49" text-anchor="end">-1.31,</text>
<text x="1661.10" y="818.49" text-anchor="end">-0.32]</text>
<text x="1746.10" y="818.49" text-anchor="end">0.001</text>
<line x1="1123.20" y1="809.28" x2="1366.10" y2="809.28" stroke="#3f6c4e" stroke-width="1.8"/>
<circle cx="1244.25" cy="809.28" r="4.55" fill="#4a7a56"/>
<text x="896.50" y="859.59">Ying, 2019</text>
<text x="1504.90" y="859.59" text-anchor="end">-0.83</text>
<text x="1511.60" y="859.59">[</text>
<text x="1587.50" y="859.59" text-anchor="end">-1.32,</text>
<text x="1661.10" y="859.59" text-anchor="end">-0.34]</text>
<text x="1746.10" y="859.59" text-anchor="end">0.001</text>
<line x1="1121.85" y1="850.39" x2="1360.20" y2="850.39" stroke="#3f6c4e" stroke-width="1.8"/>
<circle cx="1240.70" cy="850.39" r="4.55" fill="#4a7a56"/>
<text x="896.50" y="900.69">Li, 2021</text>
<text x="1504.90" y="900.69" text-anchor="end">-0.77</text>
<text x="1511.60" y="900.69">[</text>
<text x="1587.50" y="900.69" text-anchor="end">-1.28,</text>
<text x="1661.10" y="900.69" text-anchor="end">-0.25]</text>
<text x="1746.10" y="900.69" text-anchor="end">0.003</text>
<line x1="1130.50" y1="891.49" x2="1381.90" y2="891.49" stroke="#3f6c4e" stroke-width="1.8"/>
<circle cx="1256.00" cy="891.49" r="4.55" fill="#4a7a56"/>
<path d="M1078.5 925.3H1443.3" stroke="#1a1a1a" stroke-width="1.45" fill="none"/>
<path d="M1078.50 925.3V934" stroke="#1a1a1a" stroke-width="1.45" fill="none"/>
<text x="1078.50" y="961.00" text-anchor="middle">-1.5</text>
<path d="M1200.00 925.3V934" stroke="#1a1a1a" stroke-width="1.45" fill="none"/>
<text x="1200.00" y="961.00" text-anchor="middle">-1</text>
<path d="M1321.50 925.3V934" stroke="#1a1a1a" stroke-width="1.45" fill="none"/>
<text x="1321.50" y="961.00" text-anchor="middle">-.5</text>
<path d="M1443.00 925.3V934" stroke="#1a1a1a" stroke-width="1.45" fill="none"/>
<text x="1443.00" y="961.00" text-anchor="middle">0</text>
<text x="883.50" y="998.50">Random-effects REML model</text>
</g>
</svg>
</body>
</html>
